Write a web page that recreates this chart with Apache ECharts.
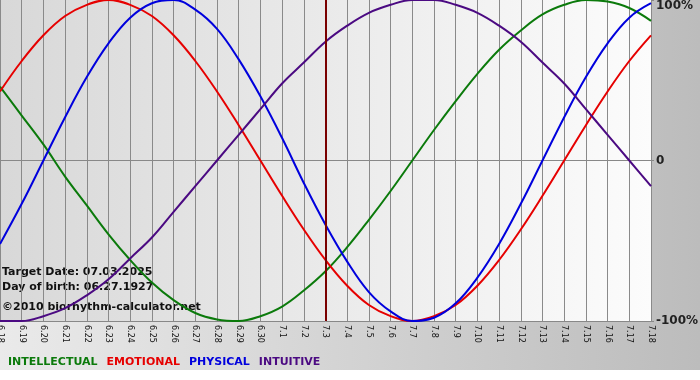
<!DOCTYPE html>
<html>

<head>
  <meta charset="UTF-8">
  <title>Biorhythm</title>
  <style>
    html, body {
      margin: 0;
      padding: 0;
      background: #fff;
    }

    #chart {
      width: 700px;
      height: 380px;
    }
  </style>
  <script type="text/javascript" src="https://cdn.jsdelivr.net/npm/echarts@6/dist/echarts.min.js"></script>
</head>

<body>
  <div id="chart"></div>
  <script type="text/javascript">
    var days = ['6.18', '6.19', '6.20', '6.21', '6.22', '6.23', '6.24', '6.25', '6.26', '6.27', '6.28', '6.29', '6.30',
      '7.1', '7.2', '7.3', '7.4', '7.5', '7.6', '7.7', '7.8', '7.9', '7.10', '7.11', '7.12', '7.13', '7.14', '7.15',
      '7.16', '7.17', '7.18'];
    var targetDay = '7.3';

    var intellectual = [46, 28, 10, -10, -28, -46, -62, -76, -87, -95, -99, -100, -97, -91, -81, -69,
      -54, -37, -19, 0, 19, 37, 54, 69, 81, 91, 97, 100, 99, 95, 87];
    var emotional = [43, 62, 78, 90, 97, 100, 97, 90, 78, 62, 43, 22, 0, -22, -43, -62,
      -78, -90, -97, -100, -97, -90, -78, -62, -43, -22, 0, 22, 43, 62, 78];
    var physical = [-52, -27, 0, 27, 52, 73, 89, 98, 100, 94, 82, 63, 40, 14, -14, -40,
      -63, -82, -94, -100, -98, -89, -73, -52, -27, 0, 27, 52, 73, 89, 98];
    var intuitive = [-100, -100, -97, -92, -84, -74, -61, -48, -32, -16, 0, 16, 32, 48, 61, 74,
      84, 92, 97, 100, 100, 97, 92, 84, 74, 61, 48, 32, 16, 0, -16];

    var names = ['INTELLECTUAL', 'EMOTIONAL', 'PHYSICAL', 'INTUITIVE'];
    var colors = ['#0b7a0b', '#e60000', '#0000dd', '#4b0a82'];
    var infoLines = ['Target Date: 07.03.2025', 'Day of birth: 06.27.1927', '©2010 biorhythm-calculator.net'];

    var font = 'DejaVu Sans';
    var chart = echarts.init(document.getElementById('chart'));

    function line(name, data, color, extra) {
      var s = {
        name: name,
        type: 'line',
        data: data,
        smooth: 0.4,
        symbol: 'none',
        clip: false,
        lineStyle: { color: color, width: 2 },
        itemStyle: { color: color },
        z: 3
      };
      return Object.assign(s, extra || {});
    }

    var option = {
      animation: false,
      graphic: [
        {
          type: 'rect',
          z: -10,
          silent: true,
          shape: { x: 0, y: 0, width: 700, height: 370 },
          style: {
            fill: new echarts.graphic.LinearGradient(0, 0, 1, 0, [
              { offset: 0, color: '#eaeaea' },
              { offset: 1, color: '#bcbcbc' }
            ])
          }
        },
        {
          type: 'group',
          left: 2,
          top: 267,
          z: 10,
          children: infoLines.map(function (t, i) {
            return {
              type: 'text',
              y: i === 2 ? 35 : i * 15,
              style: { text: t, font: 'bold 11px "' + font + '"', fill: '#111' }
            };
          })
        }
      ],
      grid: {
        left: 0,
        top: 0,
        width: 651,
        height: 321,
        outerBoundsMode: 'none',
        containLabel: false,
        show: true,
        borderWidth: 0,
        backgroundColor: new echarts.graphic.LinearGradient(0, 0, 1, 0, [
          { offset: 0, color: '#d8d8d8' },
          { offset: 1, color: '#fcfcfc' }
        ])
      },
      legend: {
        left: 3,
        top: 355,
        padding: 0,
        icon: 'none',
        itemWidth: 0,
        itemGap: 4,
        selectedMode: false,
        data: names.map(function (n, i) {
          return { name: n, textStyle: { color: colors[i] } };
        }),
        textStyle: { fontFamily: font, fontWeight: 'bold', fontSize: 11 }
      },
      xAxis: {
        type: 'category',
        data: days,
        boundaryGap: false,
        axisLine: { show: true, lineStyle: { color: '#888', width: 1 } },
        axisTick: { show: true, length: 4, lineStyle: { color: '#888' } },
        axisLabel: {
          rotate: -90,
          interval: 0,
          margin: 4,
          fontFamily: font,
          fontSize: 8,
          color: '#111'
        },
        splitLine: { show: true, lineStyle: { color: '#8a8a8a', width: 1 } }
      },
      yAxis: {
        type: 'value',
        position: 'right',
        min: -100,
        max: 100,
        interval: 100,
        axisLine: { show: false },
        axisTick: { show: true, length: 3, lineStyle: { color: '#888' } },
        axisLabel: {
          margin: 5,
          fontFamily: font,
          fontWeight: 'bold',
          fontSize: 12,
          color: '#222',
          verticalAlignMaxLabel: 'top',
          formatter: function (v) { return v === 0 ? '0' : v + '%'; }
        },
        splitLine: { show: true, lineStyle: { color: ['#888', '#888', 'rgba(0,0,0,0)'], width: 1 } }
      },
      series: [
        line(names[0], intellectual, colors[0], {
          markLine: {
            silent: true,
            symbol: 'none',
            label: { show: false },
            lineStyle: { color: '#7a0000', width: 2, type: 'solid' },
            data: [{ xAxis: targetDay }]
          }
        }),
        line(names[1], emotional, colors[1]),
        line(names[2], physical, colors[2]),
        line(names[3], intuitive, colors[3])
      ]
    };

    chart.setOption(option);
  </script>
</body>

</html>
